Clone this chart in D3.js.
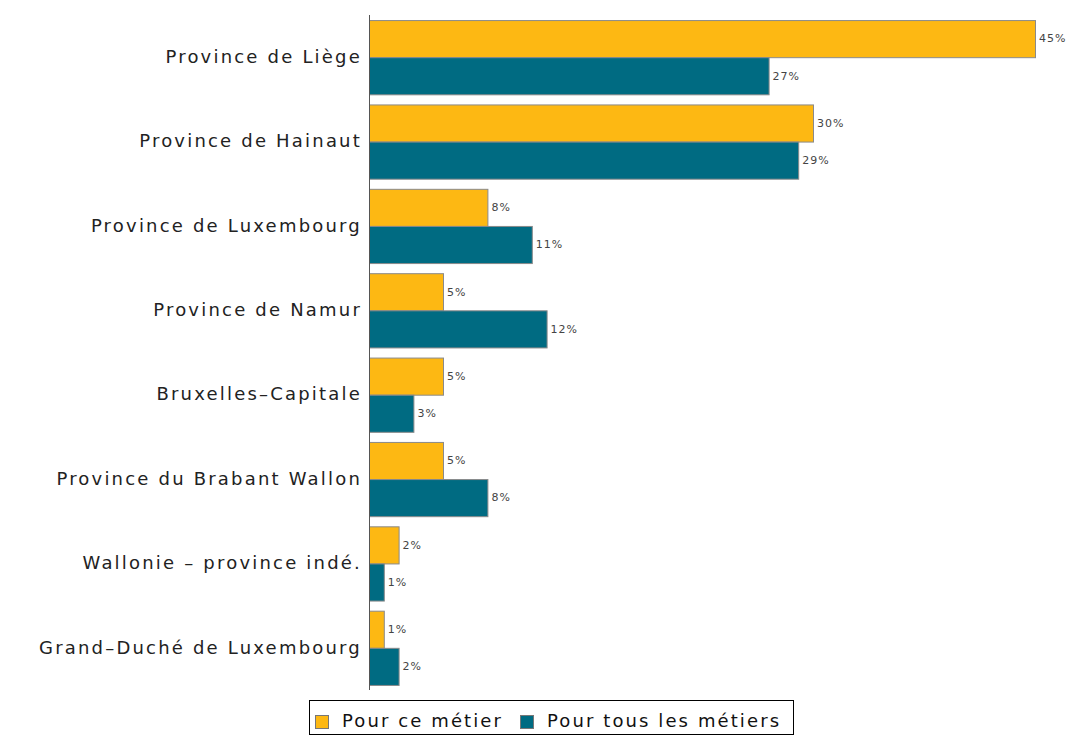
<!DOCTYPE html>
<html>
<head>
<meta charset="utf-8">
<script src="https://cdn.jsdelivr.net/npm/d3@7"></script>
<style>
  body { margin: 0; background: #fff; }
  svg { font-family: "DejaVu Sans", sans-serif; }
</style>
</head>
<body>
<div id="chart"></div>
<script>
// categories and the two series, in percent
var regions = ["Province de Liège", "Province de Hainaut", "Province de Luxembourg",
               "Province de Namur", "Bruxelles–Capitale", "Province du Brabant Wallon",
               "Wallonie – province indé.", "Grand–Duché de Luxembourg"];
var metier = [45, 30, 8, 5, 5, 5, 2, 1];
var tousMetiers = [27, 29, 11, 12, 3, 8, 1, 2];
var seriesNames = ["Pour ce métier", "Pour tous les métiers"];
var colors = ["#FDB813", "#006B82"];

var width = 1073, height = 736;
var margin = { left: 369, top: 15, right: 35, bottom: 46 };

var svg = d3.select("#chart").append("svg")
    .attr("width", width)
    .attr("height", height);

var x = d3.scaleLinear()
    .domain([0, 45])
    .range([margin.left, margin.left + 45 * 14.8]);

var y0 = d3.scaleBand()
    .domain(regions)
    .range([margin.top, height - margin.bottom])
    .paddingInner(0.12)
    .paddingOuter(0.06);

var y1 = d3.scaleBand()
    .domain([0, 1])
    .range([0, y0.bandwidth()]);

var rows = regions.map(function(r, i) {
  return { region: r, values: [metier[i], tousMetiers[i]] };
});

var groups = svg.selectAll("g.group")
    .data(rows)
    .enter().append("g")
    .attr("class", "group")
    .attr("transform", function(d) { return "translate(0," + y0(d.region) + ")"; });

groups.selectAll("rect")
    .data(function(d) { return d.values; })
    .enter().append("rect")
    .attr("x", x(0) + 0.5)
    .attr("y", function(d, i) { return y1(i) + 0.5; })
    .attr("width", function(d) { return x(d) - x(0); })
    .attr("height", y1.bandwidth())
    .attr("fill", function(d, i) { return colors[i]; })
    .attr("stroke", "#8a8a8a")
    .attr("stroke-width", 1);

groups.selectAll("text.val")
    .data(function(d) { return d.values; })
    .enter().append("text")
    .attr("class", "val")
    .attr("x", function(d) { return x(d) + 4; })
    .attr("y", function(d, i) { return y1(i) + y1.bandwidth() / 2; })
    .attr("dy", "0.35em")
    .attr("font-size", 11)
    .attr("letter-spacing", "1px")
    .attr("fill", "#444")
    .text(function(d) { return d + "%"; });

// Y axis: only the line and the labels
var yAxis = svg.append("g")
    .attr("transform", "translate(" + margin.left + ",0)")
    .call(d3.axisLeft(y0).tickSize(0).tickPadding(7));
yAxis.select(".domain").attr("stroke", "#555").attr("d",
    "M0.5," + margin.top + "V" + (height - margin.bottom));
yAxis.selectAll("text")
    .attr("font-size", 18)
    .attr("letter-spacing", "2.2px")
    .attr("font-family", "DejaVu Sans, sans-serif")
    .attr("fill", "#222");

// legend at the bottom
var legend = svg.append("g");
var lx = 309, ly = 700;
legend.append("rect")
    .attr("x", lx + 0.5).attr("y", ly + 0.5)
    .attr("width", 484).attr("height", 34)
    .attr("fill", "#fff").attr("stroke", "#000");
var offsets = [6, 211];
seriesNames.forEach(function(name, i) {
  legend.append("rect")
      .attr("x", lx + offsets[i] + 0.5).attr("y", ly + 15.5)
      .attr("width", 13).attr("height", 13)
      .attr("fill", colors[i]).attr("stroke", "#777");
  legend.append("text")
      .attr("x", lx + offsets[i] + 27).attr("y", ly + 21)
      .attr("dy", "0.35em")
      .attr("font-size", 18)
      .attr("letter-spacing", "2.1px")
      .attr("fill", "#111")
      .text(name);
});
</script>
</body>
</html>
